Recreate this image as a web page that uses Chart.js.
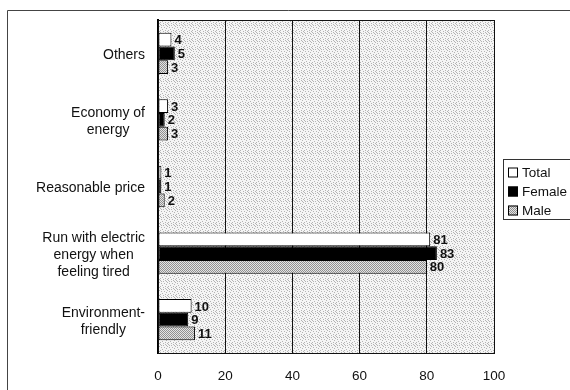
<!DOCTYPE html>
<html>
<head>
<meta charset="utf-8">
<script src="https://cdn.jsdelivr.net/npm/chart.js@4/dist/chart.umd.min.js"></script>
<style>
    html, body { margin: 0; padding: 0; background: #fff; }
    #wrap { width: 570px; height: 390px; }
</style>
</head>
<body>
<div id="wrap"><canvas id="chart" width="570" height="390"></canvas></div>
<script>
const categories = [
    ['Others'],
    ['Economy of', 'energy'],
    ['Reasonable price'],
    ['Run with electric', 'energy when', 'feeling tired'],
    ['Environment-', 'friendly']
];
const seriesNames = ['Total', 'Female', 'Male'];
const totalValues = [4, 3, 1, 81, 10];
const femaleValues = [5, 2, 1, 83, 9];
const maleValues = [3, 3, 2, 80, 11];
const xTicks = [0, 20, 40, 60, 80, 100];

const FONT = "'Liberation Sans', Arial, sans-serif";

// little tiles to fake the scanned stipple look
function makePattern(size, bg, fg, dots) {
    const c = document.createElement('canvas');
    c.width = size;
    c.height = size;
    const g = c.getContext('2d');
    g.fillStyle = bg;
    g.fillRect(0, 0, size, size);
    g.fillStyle = fg;
    dots.forEach(d => g.fillRect(d[0], d[1], 1, 1));
    return g.createPattern(c, 'repeat');
}

const plotPattern = makePattern(8, '#f5f5f5', '#b4b4b4', [
    [0, 0], [5, 0], [3, 1], [7, 2], [1, 3], [4, 3], [6, 4],
    [2, 5], [0, 6], [5, 6], [3, 7], [7, 7], [1, 1], [6, 1]
]);
const malePattern = makePattern(2, '#e4e4e4', '#909090', [[0, 0], [1, 1]]);

const plotFrame = {
    id: 'plotFrame',
    beforeDraw(chart) {
        const {ctx, chartArea: a} = chart;
        ctx.save();
        ctx.fillStyle = plotPattern;
        ctx.fillRect(a.left, a.top, a.right - a.left, a.bottom - a.top);
        ctx.restore();
    },
    afterDraw(chart) {
        const {ctx, chartArea: a} = chart;
        ctx.save();
        ctx.strokeStyle = '#111';
        ctx.lineWidth = 1;
        ctx.strokeRect(Math.round(a.left) + 0.5, Math.round(a.top) + 0.5,
            Math.round(a.right - a.left), Math.round(a.bottom - a.top));

        // scanned page frame
        ctx.strokeStyle = '#444';
        ctx.beginPath();
        ctx.moveTo(7.5, 390);
        ctx.lineTo(7.5, 10.5);
        ctx.lineTo(570, 10.5);
        ctx.stroke();
        ctx.restore();
    }
};

const categoryLabels = {
    id: 'categoryLabels',
    afterDraw(chart) {
        const {ctx} = chart;
        const yScale = chart.scales.y;
        const right = yScale.right - 13;
        const lineH = 17;
        ctx.save();
        ctx.font = '14px ' + FONT;
        ctx.fillStyle = '#111';
        ctx.textAlign = 'center';
        ctx.textBaseline = 'middle';
        categories.forEach((lines, i) => {
            const w = Math.max(...lines.map(l => ctx.measureText(l).width));
            const cx = right - w / 2;
            const cy = yScale.getPixelForValue(i) + 2;
            lines.forEach((l, j) => {
                ctx.fillText(l, cx, cy + (j - (lines.length - 1) / 2) * lineH);
            });
        });
        ctx.restore();
    }
};

const valueLabels = {
    id: 'valueLabels',
    afterDatasetsDraw(chart) {
        const {ctx} = chart;
        ctx.save();
        ctx.font = 'bold 13px ' + FONT;
        ctx.fillStyle = '#111';
        ctx.textAlign = 'left';
        ctx.textBaseline = 'middle';
        chart.data.datasets.forEach((ds, di) => {
            chart.getDatasetMeta(di).data.forEach((bar, i) => {
                ctx.fillText(ds.data[i], bar.x + 3, bar.y + 1);
            });
        });
        ctx.restore();
    }
};

const boxLegend = {
    id: 'boxLegend',
    afterDraw(chart) {
        const {ctx, chartArea: a} = chart;
        const x = a.right + 9;
        const rowH = 19;
        const mid = (a.top + a.bottom) / 2 + 2;
        const top = mid - 30;
        ctx.save();
        ctx.strokeStyle = '#333';
        ctx.lineWidth = 1;
        ctx.strokeRect(Math.round(x) + 0.5, Math.round(top) + 0.5, 90, 60);
        ctx.font = '13.5px ' + FONT;
        ctx.textBaseline = 'middle';
        ctx.fillStyle = '#111';
        chart.data.datasets.forEach((ds, i) => {
            const cy = top + 14 + i * rowH;
            ctx.fillStyle = ds.backgroundColor;
            ctx.fillRect(x + 5, cy - 5, 10, 10);
            ctx.strokeStyle = '#000';
            ctx.strokeRect(x + 5.5, cy - 4.5, 9, 9);
            ctx.fillStyle = '#111';
            ctx.fillText(ds.label, x + 19, cy + 1);
        });
        ctx.restore();
    }
};

function makeDataset(label, values, fill) {
    return {
        label: label,
        data: values,
        backgroundColor: fill,
        borderColor: '#000',
        borderWidth: 1,
        borderSkipped: false,
        barPercentage: 1,
        categoryPercentage: 0.62
    };
}

const ctx = document.getElementById('chart').getContext('2d');

new Chart(ctx, {
    type: 'bar',
    data: {
        labels: categories,
        datasets: [
            makeDataset(seriesNames[0], totalValues, '#ffffff'),
            makeDataset(seriesNames[1], femaleValues, '#000000'),
            makeDataset(seriesNames[2], maleValues, malePattern)
        ]
    },
    options: {
        indexAxis: 'y',
        responsive: false,
        animation: false,
        layout: {padding: {top: 20, right: 76, bottom: 0, left: 0}},
        plugins: {
            legend: {display: false},
            tooltip: {enabled: false}
        },
        scales: {
            x: {
                min: 0,
                max: 100,
                afterBuildTicks: scale => {
                    scale.ticks = xTicks.map(v => ({value: v}));
                },
                afterFit: scale => { scale.height = 37; },
                grid: {color: '#111', lineWidth: 1, drawTicks: false},
                border: {display: true, color: '#111'},
                ticks: {
                    padding: 15,
                    color: '#111',
                    font: {family: FONT, size: 13.5}
                }
            },
            y: {
                afterFit: scale => { scale.width = 158; },
                grid: {display: false},
                border: {display: true, color: '#000', width: 2},
                ticks: {display: false}
            }
        }
    },
    plugins: [plotFrame, categoryLabels, valueLabels, boxLegend]
});
</script>
</body>
</html>
